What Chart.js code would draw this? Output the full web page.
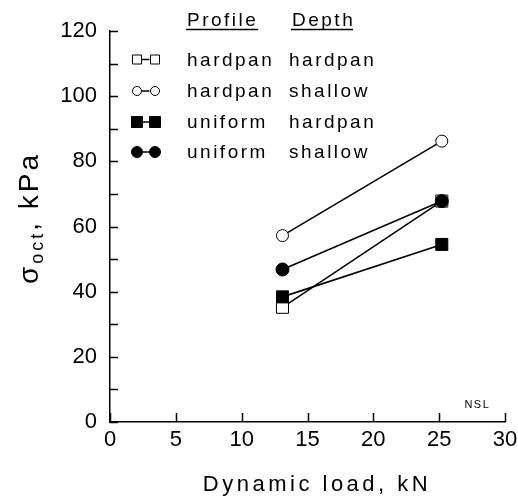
<!DOCTYPE html>
<html>
<head>
<meta charset="utf-8">
<script src="https://cdn.jsdelivr.net/npm/chart.js@4.4.0/dist/chart.umd.min.js"></script>
<style>
  body { margin: 0; background: #fff; }
  #wrap { width: 518px; height: 497px; }
</style>
</head>
<body>
<div id="wrap"><canvas id="chart" width="518" height="497"></canvas></div>
<script>
// dynamic load (kN) at the two test points
var loads = [13.1, 25.2];

// sigma_oct (kPa) per soil profile / measurement depth
var hardpanHardpan = [35.2, 67.8];
var hardpanShallow = [57.2, 86.2];
var uniformHardpan = [38.4, 54.5];
var uniformShallow = [46.8, 67.8];

var profiles = ['hardpan', 'hardpan', 'uniform', 'uniform'];
var depths = ['hardpan', 'shallow', 'hardpan', 'shallow'];

var xTicks = [0, 5, 10, 15, 20, 25, 30];
var yTicks = [0, 20, 40, 60, 80, 100, 120];

var FONT = '"Liberation Sans", Arial, sans-serif';

function pts(ys) {
    return loads.map(function(x, i) { return {x: x, y: ys[i]}; });
}

// marker style per series: [pointStyle, filled, radius]
var markers = [
    ['rect', false, 8.5],
    ['circle', false, 6],
    ['rect', true, 8.5],
    ['circle', true, 6.5]
];
var series = [hardpanHardpan, hardpanShallow, uniformHardpan, uniformShallow];

var datasets = series.map(function(s, i) {
    var m = markers[i];
    return {
        label: profiles[i] + ' ' + depths[i],
        data: pts(s),
        borderColor: '#000',
        borderWidth: 1.6,
        pointStyle: m[0],
        pointRadius: m[2],
        pointBorderWidth: 1,
        pointBorderColor: '#000',
        pointBackgroundColor: m[1] ? '#000' : '#fff',
        order: m[1] ? 0 : 1
    };
});

var paperPlugin = {
    id: 'paper',
    afterDraw: function(chart) {
        var ctx = chart.ctx;
        var xs = chart.scales.x, ys = chart.scales.y;
        var x0 = xs.left, y0 = ys.bottom;
        ctx.save();
        ctx.strokeStyle = '#000';
        ctx.fillStyle = '#000';
        ctx.lineWidth = 1.5;

        // inward tick marks
        ys.ticks.forEach(function(t) {
            var py = Math.round(ys.getPixelForValue(t.value)) + 0.5;
            ctx.beginPath(); ctx.moveTo(x0, py); ctx.lineTo(x0 + 8, py); ctx.stroke();
        });
        xs.ticks.forEach(function(t) {
            var px = Math.round(xs.getPixelForValue(t.value)) + 0.5;
            ctx.beginPath(); ctx.moveTo(px, y0); ctx.lineTo(px, y0 - 9); ctx.stroke();
        });

        // x title
        ctx.letterSpacing = '3.5px';
        ctx.font = '22px ' + FONT;
        ctx.textAlign = 'center';
        ctx.textBaseline = 'alphabetic';
        ctx.fillText('Dynamic load, kN', 317, 491);

        // y title with subscript
        ctx.save();
        ctx.translate(38, 218);
        ctx.rotate(-Math.PI / 2);
        ctx.textAlign = 'left';
        ctx.letterSpacing = '3px';
        var big = '28px ' + FONT, small = '18px ' + FONT;
        ctx.font = big; var w1 = ctx.measureText('\u03c3').width;
        ctx.font = small; var w2 = ctx.measureText('oct').width;
        ctx.font = big; var w3 = ctx.measureText(', kPa').width;
        var sx = -(w1 + w2 + w3) / 2;
        ctx.font = big; ctx.fillText('\u03c3', sx, 0);
        ctx.font = small; ctx.fillText('oct', sx + w1, 5);
        ctx.font = big; ctx.fillText(', kPa', sx + w1 + w2, 0);
        ctx.restore();

        // NSL note
        ctx.font = '11px ' + FONT;
        ctx.letterSpacing = '1.5px';
        ctx.textAlign = 'center';
        ctx.fillText('NSL', xs.getPixelForValue(27.9), ys.getPixelForValue(4.3));

        // legend header
        ctx.letterSpacing = '2.5px';
        ctx.font = '19px ' + FONT;
        ctx.textAlign = 'left';
        ctx.fillText('Profile', 187, 26);
        ctx.fillText('Depth', 292, 26);
        ctx.lineWidth = 1.3;
        ctx.beginPath();
        ctx.moveTo(186, 29.5); ctx.lineTo(258, 29.5);
        ctx.moveTo(291, 29.5); ctx.lineTo(353, 29.5);
        ctx.stroke();

        // legend rows
        var rowY = [59.5, 91, 122, 152];
        var mk = [137, 155];
        series.forEach(function(s, i) {
            var y = rowY[i], m = markers[i];
            ctx.lineWidth = 1.5;
            ctx.beginPath(); ctx.moveTo(142, y); ctx.lineTo(149.5, y); ctx.stroke();
            ctx.lineWidth = 1;
            mk.forEach(function(cx) {
                var r = m[1] ? 5.5 : 4.5;
                ctx.beginPath();
                if (m[0] === 'rect') ctx.rect(cx - r, y - r, 2 * r, 2 * r);
                else ctx.arc(cx, y, r, 0, Math.PI * 2);
                ctx.fillStyle = m[1] ? '#000' : '#fff';
                ctx.fill(); ctx.stroke();
            });
            ctx.fillStyle = '#000';
            ctx.font = '19px ' + FONT;
            ctx.fillText(profiles[i], 187, y + 6);
            ctx.fillText(depths[i], 289, y + 6);
        });
        ctx.restore();
    }
};

new Chart(document.getElementById('chart').getContext('2d'), {
    type: 'line',
    data: { datasets: datasets },
    options: {
        responsive: false,
        animation: false,
        layout: { padding: { left: 0, right: 13, top: 31, bottom: 0 } },
        plugins: { legend: { display: false }, tooltip: { enabled: false } },
        scales: {
            x: {
                type: 'linear',
                min: 0, max: 30,
                grid: { display: false, drawTicks: false },
                border: { display: true, color: '#000', width: 1.5 },
                afterBuildTicks: function(s) { s.ticks = xTicks.map(function(v) { return {value: v}; }); },
                ticks: { color: '#000', font: { family: FONT, size: 22 }, padding: 5, maxRotation: 0 },
                afterFit: function(s) { s.height = 75; s.paddingLeft = 0; s.paddingRight = 0; }
            },
            y: {
                min: 0, max: 120,
                grid: { display: false, drawTicks: false },
                border: { display: true, color: '#000', width: 1.5 },
                ticks: {
                    stepSize: 10,
                    color: '#000',
                    font: { family: FONT, size: 22 },
                    padding: 13,
                    callback: function(v) { return yTicks.indexOf(v) >= 0 ? String(v) : ''; }
                },
                afterFit: function(s) { s.width = 110; }
            }
        }
    },
    plugins: [paperPlugin]
});
</script>
</body>
</html>
